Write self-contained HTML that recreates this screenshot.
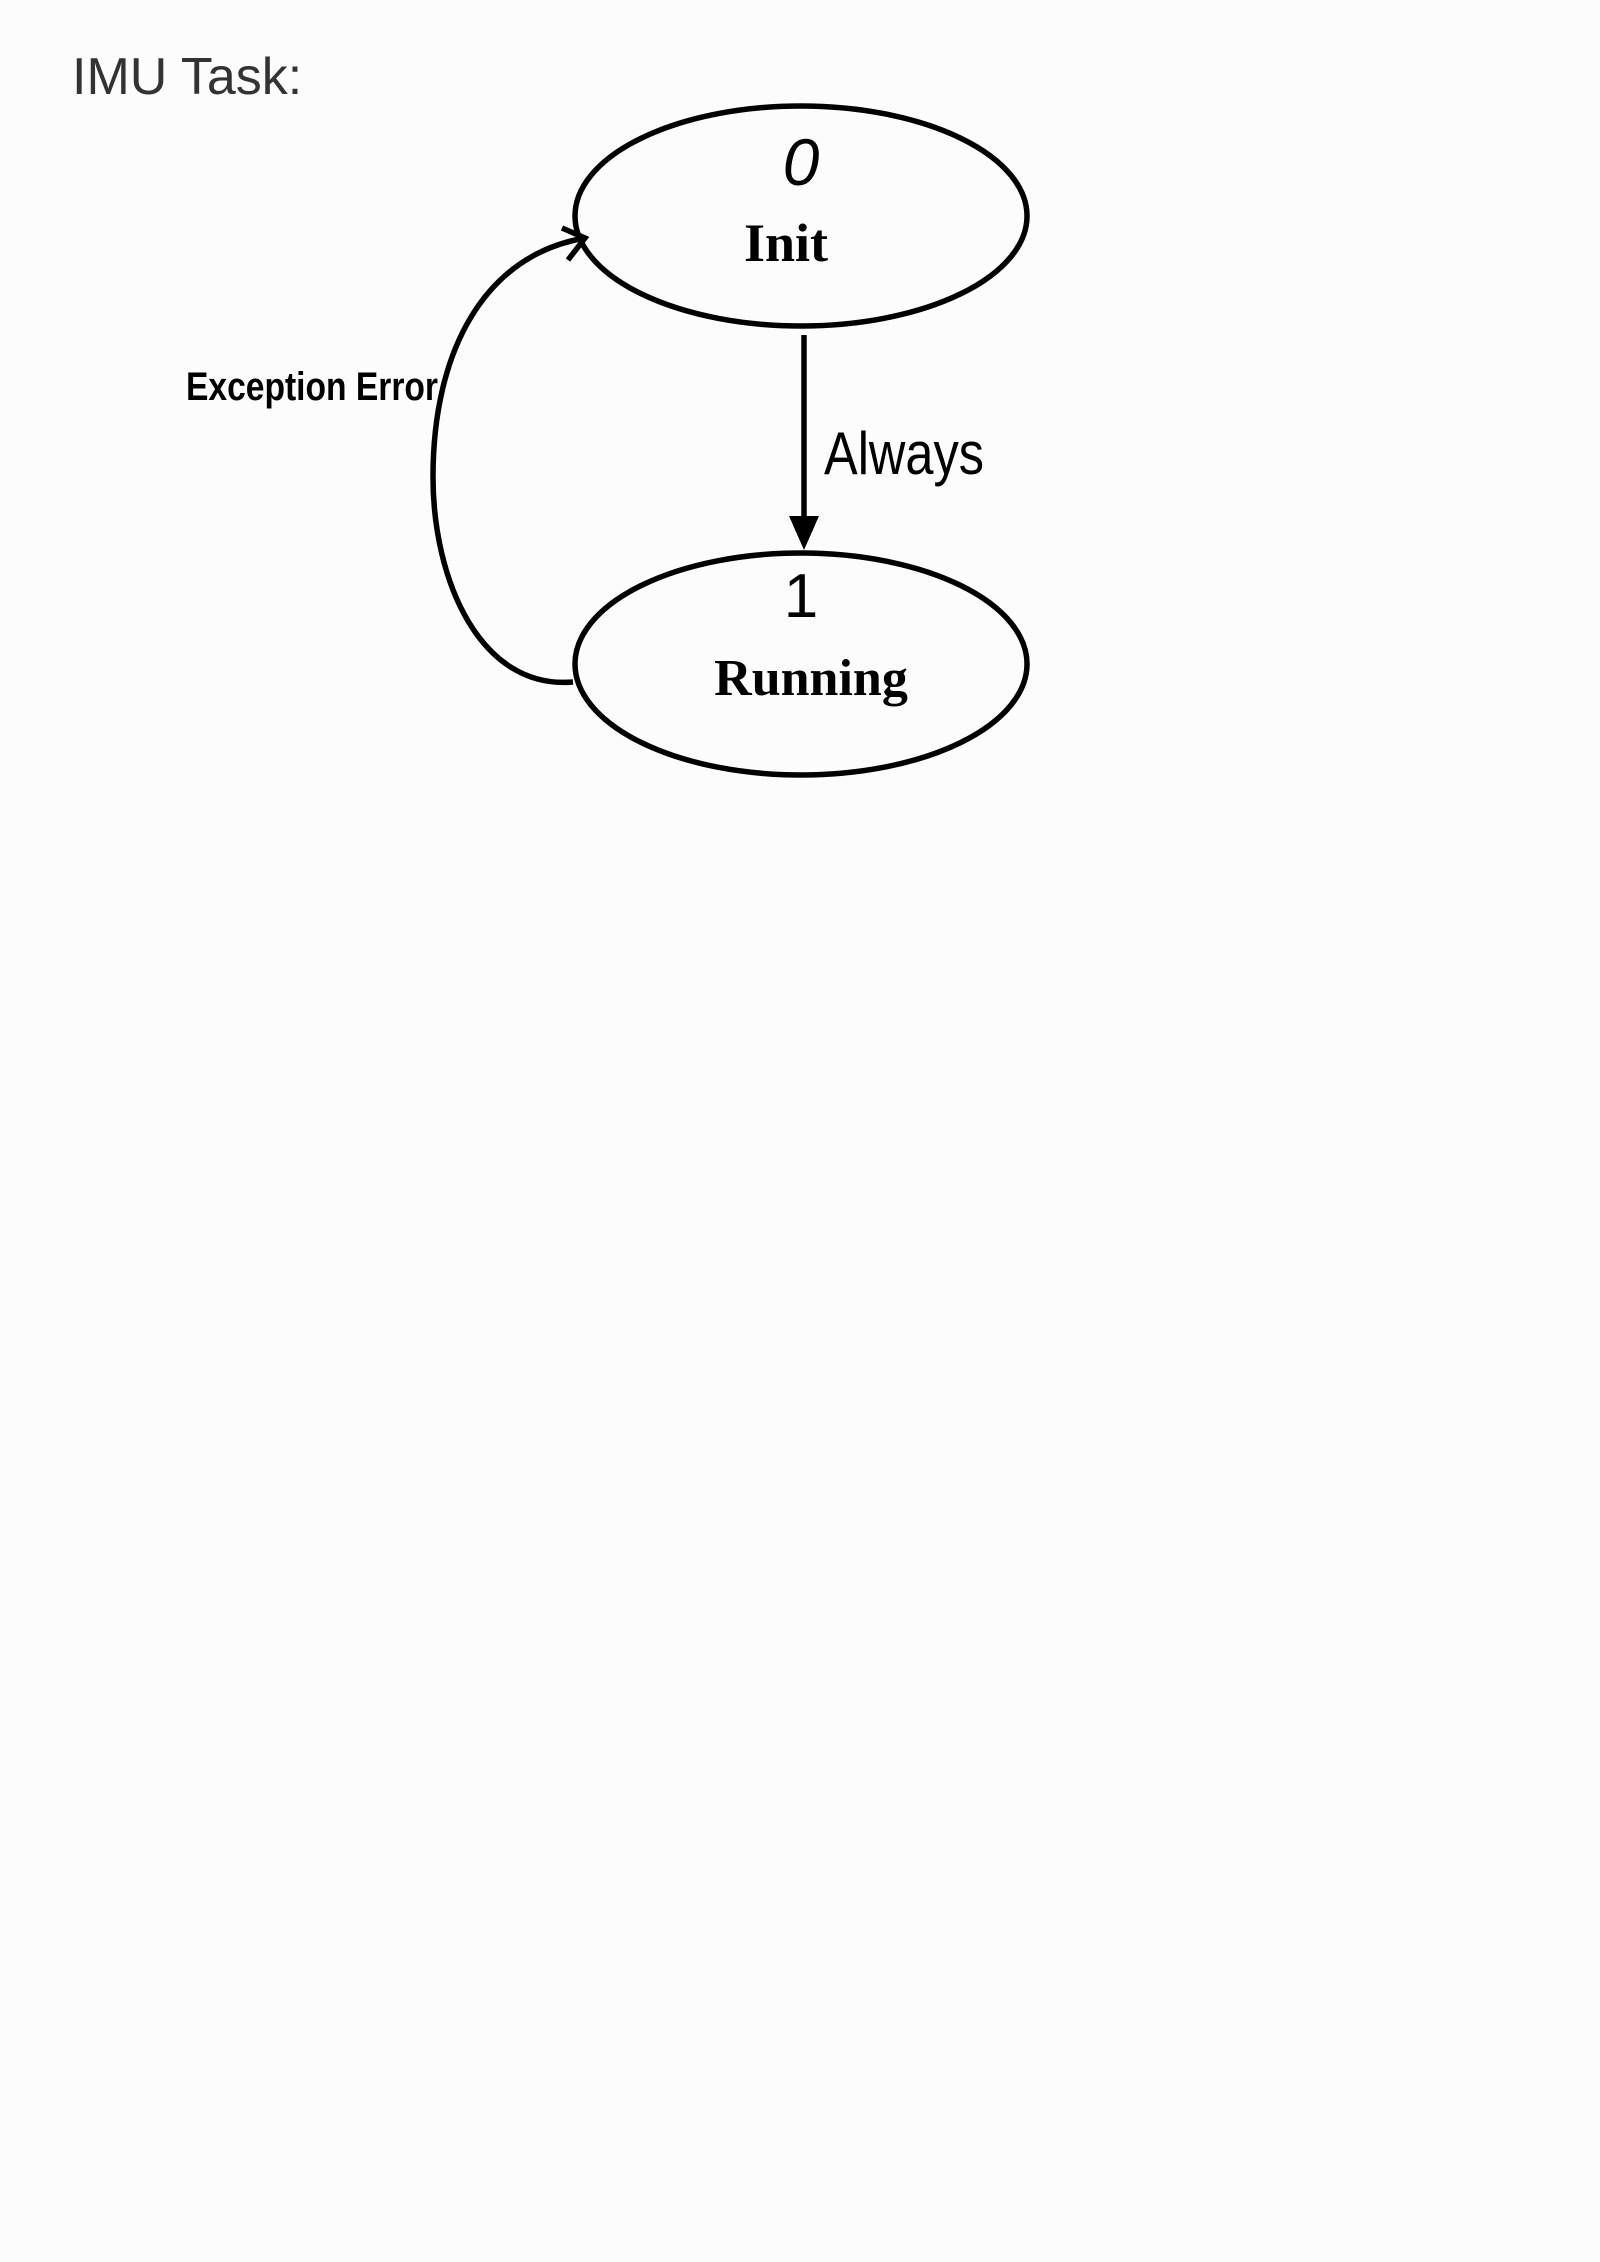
<!DOCTYPE html>
<html><head><meta charset="utf-8"><style>
html,body{margin:0;padding:0;background:#fcfcfc;}
body{width:1600px;height:2262px;position:relative;overflow:hidden;}
.t{position:absolute;left:72px;top:47px;font:52px "Liberation Sans",sans-serif;color:#333;}
</style></head><body>
<div class="t">IMU Task:</div>
<svg width="1600" height="2262" style="position:absolute;left:0;top:0" font-family="Liberation Sans Narrow, Liberation Sans, sans-serif">
<g fill="none" stroke="#000" stroke-width="5.5">
<ellipse cx="801" cy="216" rx="226" ry="110"/>
<ellipse cx="801" cy="664" rx="226" ry="111"/>
<line x1="804" y1="335" x2="804" y2="520"/>
<path d="M573 682 C480 690 433 580 433 477 C433 350 485 255 585 238"/>
<path d="M562 228 L585 238 L568 260"/>
</g>
<polygon points="789,516 819,516 804,550" fill="#000"/>
<g fill="#000" text-anchor="middle" font-weight="bold">
<text x="801" y="185" font-size="66" font-style="italic" font-weight="normal">0</text>
<text x="786" y="261" font-size="54" font-family="Liberation Serif, serif">Init</text>
<text x="801" y="617" font-size="62" font-weight="normal">1</text>
<text x="811" y="695" font-size="52" font-family="Liberation Serif, serif">Running</text>
<text x="904" y="474" font-size="60" font-weight="normal" textLength="160" lengthAdjust="spacingAndGlyphs">Always</text>
<text x="312" y="400" font-size="40" textLength="252" lengthAdjust="spacingAndGlyphs">Exception Error</text>
</g>
</svg>
</body></html>
